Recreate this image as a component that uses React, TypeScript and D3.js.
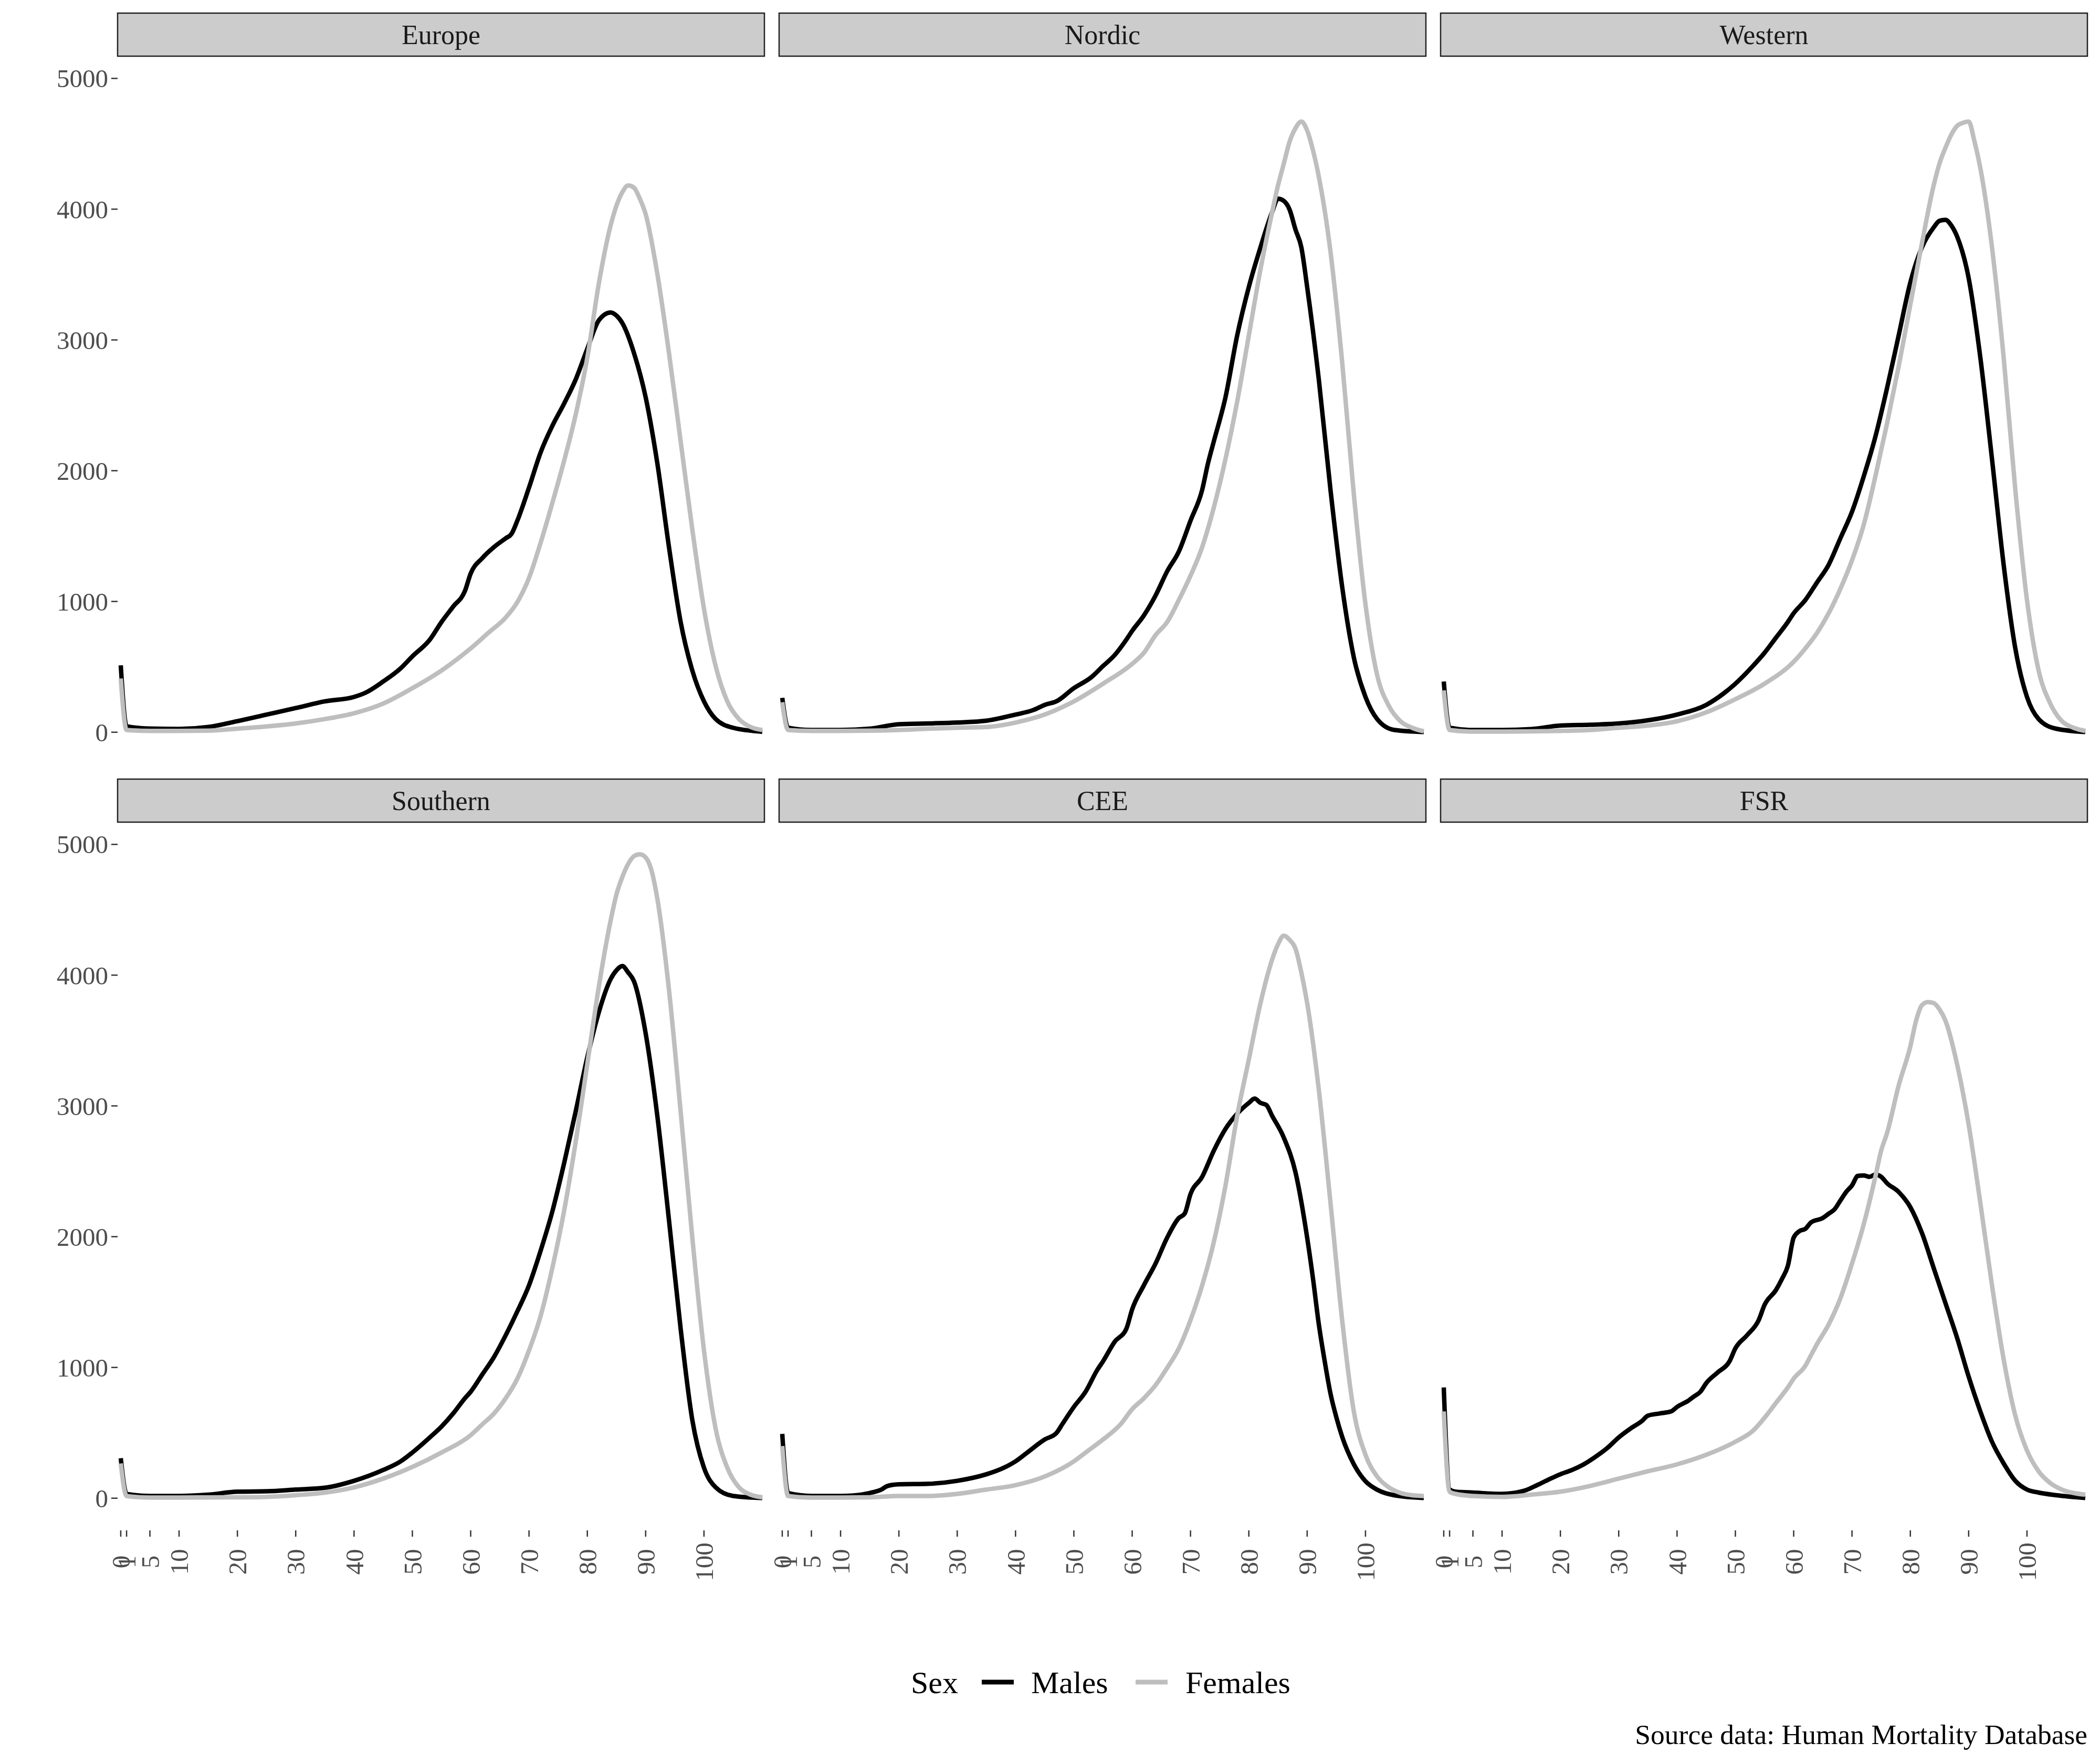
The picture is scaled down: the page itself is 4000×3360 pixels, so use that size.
import React from "react";
import * as d3 from "d3";

type Pt = [number, number];

const REGIONS = ["Europe", "Nordic", "Western", "Southern", "CEE", "FSR"];
const X_TICKS = [0, 1, 5, 10, 20, 30, 40, 50, 60, 70, 80, 90, 100];
const Y_TICKS = [0, 1000, 2000, 3000, 4000, 5000];
const SEX_LABELS = ["Males", "Females"];
const CAPTION = "Source data: Human Mortality Database";

const EUROPE_M: Pt[] = [[0,512],[1,45],[5,28],[10,25],[15,40],[20,85],[25,135],[30,185],[35,236],[40,270],[42,303],[45,388],[48,489],[50,580],[53,708],[55,843],[57,961],[59,1079],[60,1214],[62,1332],[64,1416],[66,1483],[67,1517],[68,1618],[70,1871],[72,2141],[74,2343],[76,2512],[78,2697],[80,2933],[82,3152],[84,3210],[85,3186],[86,3129],[88,2900],[90,2562],[92,2057],[94,1416],[96,843],[98,472],[100,236],[102,101],[105,34],[110,4]];
const EUROPE_F: Pt[] = [[0,411],[1,17],[5,10],[10,10],[15,12],[20,27],[25,44],[30,67],[35,101],[40,145],[45,219],[50,337],[55,472],[60,641],[63,759],[66,877],[68,995],[70,1180],[72,1450],[74,1753],[76,2073],[78,2428],[80,2866],[82,3439],[84,3877],[86,4130],[87,4181],[88,4164],[89,4080],[90,3962],[92,3506],[94,2900],[96,2225],[98,1551],[100,944],[102,506],[104,236],[106,101],[108,40],[110,17]];

const NORDIC_M: Pt[] = [[0,263],[1,34],[5,17],[10,17],[15,27],[20,61],[25,67],[30,74],[35,88],[40,135],[43,169],[45,209],[47,236],[50,337],[53,421],[55,506],[57,590],[59,708],[60,775],[62,893],[64,1045],[66,1231],[68,1382],[70,1618],[72,1854],[73,2057],[74,2225],[76,2562],[78,3034],[80,3405],[82,3709],[84,3978],[85,4080],[86,4063],[87,3995],[88,3844],[89,3709],[90,3405],[92,2697],[94,1854],[96,1113],[98,573],[100,270],[102,101],[105,17],[110,2]];
const NORDIC_F: Pt[] = [[0,229],[1,17],[5,10],[10,10],[15,12],[20,17],[25,27],[30,34],[35,40],[40,74],[45,135],[50,236],[55,371],[60,523],[62,607],[64,742],[66,843],[68,1011],[70,1197],[72,1416],[74,1720],[76,2090],[78,2528],[80,3034],[82,3540],[84,3978],[85,4181],[86,4349],[87,4518],[88,4619],[89,4670],[90,4602],[91,4450],[92,4248],[94,3675],[96,2832],[98,1821],[100,978],[102,438],[104,202],[106,84],[108,34],[110,7]];

const WESTERN_M: Pt[] = [[0,388],[1,34],[5,17],[10,17],[15,24],[20,51],[25,57],[30,67],[35,91],[40,135],[45,209],[48,297],[50,371],[53,506],[55,607],[57,725],[59,843],[60,910],[62,1011],[64,1146],[66,1281],[68,1483],[70,1686],[72,1955],[74,2259],[76,2630],[78,3034],[80,3439],[82,3709],[84,3860],[85,3911],[86,3918],[87,3877],[88,3793],[90,3473],[92,2866],[94,2090],[96,1281],[98,641],[100,270],[102,101],[105,27],[110,2]];
const WESTERN_F: Pt[] = [[0,320],[1,17],[5,5],[10,5],[15,7],[20,10],[25,17],[30,34],[35,51],[40,84],[45,152],[50,253],[55,371],[60,539],[62,641],[64,759],[66,910],[68,1096],[70,1315],[72,1585],[74,1955],[76,2360],[78,2798],[80,3270],[82,3742],[84,4181],[85,4349],[86,4467],[87,4568],[88,4636],[89,4660],[90,4670],[91,4518],[92,4316],[94,3709],[96,2866],[98,1854],[100,1011],[102,472],[104,219],[106,84],[108,34],[110,10]];

const SOUTHERN_M: Pt[] = [[0,306],[1,33],[5,17],[10,17],[15,27],[20,50],[25,53],[30,66],[35,80],[40,133],[45,216],[48,282],[50,349],[53,465],[55,548],[57,648],[59,764],[60,814],[62,947],[64,1080],[66,1246],[68,1429],[70,1628],[72,1894],[74,2193],[76,2558],[78,2957],[80,3372],[82,3721],[84,3970],[85,4037],[86,4070],[87,4020],[88,3953],[90,3555],[92,2924],[94,2126],[96,1296],[98,598],[100,233],[102,83],[105,17],[110,2]];
const SOUTHERN_F: Pt[] = [[0,266],[1,17],[5,5],[10,5],[15,6],[20,7],[25,10],[30,23],[35,43],[40,83],[45,150],[50,239],[55,349],[60,482],[62,565],[64,648],[66,764],[68,914],[70,1130],[72,1395],[74,1761],[76,2193],[78,2724],[80,3322],[82,3920],[84,4419],[85,4618],[86,4751],[87,4850],[88,4910],[89,4924],[90,4900],[91,4801],[92,4585],[94,3887],[96,2957],[98,1993],[100,1130],[102,532],[104,233],[106,83],[108,27],[110,7]];

const CEE_M: Pt[] = [[0,492],[1,40],[5,17],[10,17],[12,20],[15,40],[17,66],[18,93],[20,106],[25,110],[30,133],[35,183],[38,233],[40,282],[42,349],[45,449],[47,498],[48,565],[50,698],[52,814],[54,980],[55,1047],[57,1196],[59,1296],[60,1445],[62,1628],[64,1794],[66,1993],[68,2143],[69,2176],[70,2326],[72,2458],[74,2658],[76,2824],[78,2940],[80,3023],[81,3056],[82,3023],[83,3007],[84,2924],[86,2757],[88,2492],[90,1993],[91,1680],[92,1330],[93,1050],[94,800],[95,620],[96,470],[98,260],[100,130],[102,65],[105,22],[110,2]];
const CEE_F: Pt[] = [[0,399],[1,17],[5,5],[10,5],[15,7],[20,17],[25,17],[30,33],[35,66],[40,100],[45,166],[50,282],[52,349],[55,449],[58,565],[60,681],[62,764],[64,864],[66,997],[68,1146],[70,1362],[72,1628],[74,1960],[76,2392],[78,2924],[80,3355],[82,3787],[84,4120],[85,4236],[86,4302],[87,4269],[88,4203],[89,4020],[90,3787],[92,3123],[94,2259],[96,1362],[98,664],[100,332],[102,166],[104,83],[106,40],[108,23],[110,17]];

const FSR_M: Pt[] = [[0,847],[1,66],[2,50],[5,43],[10,33],[12,40],[14,60],[16,100],[18,143],[20,183],[22,216],[24,259],[26,316],[28,382],[30,465],[32,532],[34,591],[35,631],[37,648],[39,664],[40,698],[42,748],[43,781],[44,814],[45,880],[47,963],[49,1047],[50,1146],[52,1246],[54,1362],[55,1478],[57,1595],[58,1678],[59,1777],[60,1993],[61,2043],[62,2060],[63,2110],[65,2143],[66,2176],[67,2209],[68,2276],[69,2342],[70,2392],[71,2465],[72,2468],[73,2458],[74,2475],[75,2458],[76,2409],[78,2342],[80,2226],[82,2027],[84,1761],[86,1495],[88,1229],[90,930],[92,664],[94,432],[96,266],[98,133],[100,66],[102,43],[105,23],[110,2]];
const FSR_F: Pt[] = [[0,664],[1,50],[2,33],[5,17],[10,10],[15,27],[20,50],[25,93],[30,150],[35,206],[40,259],[45,332],[50,432],[53,515],[55,615],[57,731],[59,847],[60,914],[62,1013],[63,1096],[64,1179],[66,1329],[68,1528],[70,1794],[72,2093],[74,2458],[75,2658],[76,2791],[78,3156],[80,3455],[81,3654],[82,3771],[83,3794],[84,3787],[85,3738],[86,3654],[88,3322],[90,2857],[92,2259],[94,1628],[96,1063],[98,631],[100,365],[102,206],[104,116],[106,66],[108,40],[110,27]];

const MALES = [EUROPE_M, NORDIC_M, WESTERN_M, SOUTHERN_M, CEE_M, FSR_M];
const FEMALES = [EUROPE_F, NORDIC_F, WESTERN_F, SOUTHERN_F, CEE_F, FSR_F];

const COLORS = ["#000000", "#BEBEBE"];
const FONT = "'Liberation Serif', 'Times New Roman', serif";

const COL_X = [224, 1484, 2744];
const PANEL_W = 1232;
const STRIP_TOP = [25, 1484];
const STRIP_H = 82;
const PANEL_H = 1349;

export default function App() {
  const line = (x: d3.ScaleLinear<number, number>, y: d3.ScaleLinear<number, number>) =>
    d3.line<Pt>().x(d => x(d[0])).y(d => y(d[1])).curve(d3.curveMonotoneX);

  const panels = REGIONS.map((name, i) => {
    const col = i % 3;
    const row = Math.floor(i / 3);
    const left = COL_X[col];
    const top = STRIP_TOP[row] + STRIP_H;
    const x = d3.scaleLinear().domain([0, 110]).range([left + 6, left + PANEL_W - 4]);
    const y = d3.scaleLinear().domain([-246, 5170]).range([top + PANEL_H, top]);
    const gen = line(x, y);
    return (
      <g key={name}>
        <rect x={left} y={STRIP_TOP[row]} width={PANEL_W} height={STRIP_H} fill="#CCCCCC" stroke="#222" strokeWidth={2.5} />
        <text x={left + PANEL_W / 2} y={STRIP_TOP[row] + STRIP_H / 2} dy="0.35em" textAnchor="middle" fontFamily={FONT} fontSize={52} fill="#1A1A1A">{name}</text>
        <path d={gen(MALES[i]) || ""} fill="none" stroke={COLORS[0]} strokeWidth={8.5} strokeLinejoin="round" />
        <path d={gen(FEMALES[i]) || ""} fill="none" stroke={COLORS[1]} strokeWidth={8.5} strokeLinejoin="round" />
        {col === 0 && Y_TICKS.map(t => (
          <g key={t}>
            <line x1={left - 12} x2={left} y1={y(t)} y2={y(t)} stroke="#333333" strokeWidth={2.5} />
            <text x={left - 18} y={y(t)} dy="0.35em" textAnchor="end" fontFamily={FONT} fontSize={49} fill="#4D4D4D">{t}</text>
          </g>
        ))}
        {row === 1 && X_TICKS.map(t => (
          <g key={t}>
            <line x1={x(t)} x2={x(t)} y1={top + PANEL_H} y2={top + PANEL_H + 12} stroke="#333333" strokeWidth={2.5} />
            <text transform={`translate(${x(t)},${top + PANEL_H + 60}) rotate(-90)`} dy="0.35em" textAnchor="middle" fontFamily={FONT} fontSize={49} fill="#4D4D4D">{t}</text>
          </g>
        ))}
      </g>
    );
  });

  const legY = 3204;
  return (
    <svg width={4000} height={3360} style={{ position: "absolute", left: 0, top: 0, background: "#fff" }}>
      <rect x={0} y={0} width={4000} height={3360} fill="#ffffff" />
      {panels}
      <text x={1735} y={legY} dy="0.35em" fontFamily={FONT} fontSize={60} fill="#000">Sex</text>
      <line x1={1870} x2={1931} y1={legY} y2={legY} stroke={COLORS[0]} strokeWidth={9} />
      <text x={1964} y={legY} dy="0.35em" fontFamily={FONT} fontSize={60} fill="#000">{SEX_LABELS[0]}</text>
      <line x1={2163} x2={2224} y1={legY} y2={legY} stroke={COLORS[1]} strokeWidth={9} />
      <text x={2258} y={legY} dy="0.35em" fontFamily={FONT} fontSize={60} fill="#000">{SEX_LABELS[1]}</text>
      <text x={3976} y={3322} textAnchor="end" fontFamily={FONT} fontSize={53.5} fill="#000">{CAPTION}</text>
    </svg>
  );
}
